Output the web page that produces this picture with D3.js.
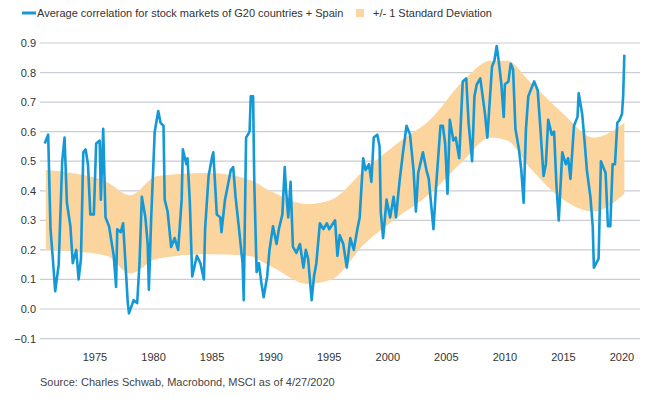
<!DOCTYPE html>
<html>
<head>
<meta charset="utf-8">
<script src="https://cdn.jsdelivr.net/npm/d3@7"></script>
<style>
  body { margin: 0; background: #fff; }
  text { font-family: "Liberation Sans", Arial, sans-serif; }
</style>
</head>
<body>
<svg id="chart" width="650" height="400"></svg>
<script>
// correlation series: [year, value]
const corrYears = [1970.7,1971.0,1971.2,1971.4,1971.6,1971.9,1972.2,1972.4,1972.6,1972.9,1973.1,1973.4,1973.6,1973.8,1974.0,1974.2,1974.4,1974.6,1974.9,1975.1,1975.4,1975.5,1975.7,1975.9,1976.2,1976.6,1976.8,1976.9,1977.2,1977.4,1977.6,1977.8,1977.9,1978.3,1978.6,1978.8,1979.0,1979.3,1979.5,1979.6,1979.8,1980.1,1980.4,1980.6,1980.85,1980.95,1981.2,1981.5,1981.8,1982.1,1982.4,1982.5,1982.8,1982.9,1983.1,1983.3,1983.7,1984.0,1984.3,1984.4,1984.7,1985.0,1985.1,1985.4,1985.7,1985.8,1986.1,1986.4,1986.6,1986.8,1987.0,1987.3,1987.6,1987.7,1987.9,1988.2,1988.3,1988.5,1988.6,1988.8,1989.0,1989.2,1989.4,1989.7,1989.9,1990.2,1990.5,1990.7,1991.0,1991.2,1991.3,1991.5,1991.7,1991.9,1992.2,1992.5,1992.8,1993.0,1993.2,1993.5,1993.7,1993.9,1994.2,1994.5,1994.8,1995.0,1995.5,1995.7,1995.9,1996.2,1996.5,1996.8,1997.1,1997.4,1997.6,1997.9,1998.1,1998.4,1998.6,1998.8,1999.1,1999.3,1999.4,1999.6,1999.9,2000.2,2000.5,2000.7,2001.0,2001.3,2001.6,2001.9,2002.2,2002.4,2002.6,2003.0,2003.3,2003.5,2003.9,2004.1,2004.5,2004.7,2004.9,2005.1,2005.3,2005.6,2005.8,2006.1,2006.4,2006.7,2006.9,2007.2,2007.4,2007.6,2007.9,2008.1,2008.3,2008.5,2008.9,2009.1,2009.3,2009.5,2009.7,2009.9,2010.0,2010.3,2010.5,2010.7,2010.9,2011.2,2011.4,2011.6,2011.8,2012.0,2012.3,2012.5,2012.8,2013.0,2013.3,2013.5,2013.7,2014.0,2014.2,2014.4,2014.6,2014.9,2015.2,2015.4,2015.6,2015.9,2016.2,2016.3,2016.6,2016.8,2017.0,2017.3,2017.5,2017.6,2017.8,2018.0,2018.2,2018.4,2018.6,2018.8,2019.0,2019.2,2019.4,2019.6,2019.8,2020.0,2020.1,2020.2];
const corrValues = [0.56,0.59,0.27,0.17,0.06,0.15,0.50,0.58,0.36,0.28,0.155,0.20,0.10,0.17,0.53,0.54,0.49,0.32,0.32,0.56,0.57,0.37,0.61,0.31,0.28,0.18,0.075,0.27,0.26,0.29,0.155,0.02,-0.015,0.03,0.02,0.155,0.38,0.31,0.22,0.065,0.31,0.60,0.67,0.63,0.62,0.37,0.33,0.21,0.24,0.20,0.37,0.54,0.49,0.51,0.36,0.11,0.18,0.155,0.10,0.27,0.45,0.515,0.53,0.32,0.31,0.26,0.37,0.43,0.47,0.48,0.38,0.27,0.155,0.03,0.58,0.60,0.72,0.72,0.43,0.125,0.155,0.09,0.04,0.11,0.20,0.28,0.22,0.27,0.32,0.48,0.41,0.31,0.43,0.21,0.19,0.22,0.14,0.20,0.17,0.03,0.11,0.155,0.29,0.27,0.29,0.27,0.30,0.18,0.25,0.22,0.14,0.24,0.20,0.27,0.31,0.51,0.47,0.49,0.43,0.58,0.59,0.55,0.33,0.24,0.37,0.31,0.38,0.31,0.43,0.53,0.62,0.59,0.47,0.33,0.46,0.53,0.47,0.44,0.27,0.40,0.62,0.62,0.56,0.39,0.64,0.57,0.58,0.51,0.77,0.78,0.63,0.50,0.72,0.76,0.78,0.72,0.66,0.58,0.82,0.84,0.89,0.83,0.76,0.65,0.76,0.77,0.83,0.81,0.61,0.54,0.47,0.36,0.61,0.72,0.75,0.77,0.74,0.63,0.45,0.49,0.64,0.59,0.60,0.42,0.30,0.53,0.49,0.51,0.44,0.62,0.65,0.73,0.66,0.57,0.47,0.38,0.28,0.14,0.155,0.17,0.50,0.48,0.46,0.28,0.28,0.49,0.49,0.63,0.64,0.66,0.72,0.86];

// +/- 1 standard deviation band
const bandYears = [1970.8,1973,1976,1978,1980.3,1984.6,1988,1990.2,1993.1,1995.2,1998,2000.8,2003.6,2006.4,2008.8,2010.2,2012.1,2015,2017.6,2020.2];
const bandUpper = [0.47,0.46,0.43,0.385,0.45,0.46,0.44,0.395,0.355,0.37,0.47,0.56,0.64,0.77,0.84,0.84,0.77,0.66,0.58,0.63];
const bandLower = [0.20,0.195,0.18,0.12,0.17,0.185,0.18,0.14,0.085,0.10,0.22,0.31,0.39,0.50,0.58,0.57,0.48,0.37,0.33,0.39];

const xTicks = [1975,1980,1985,1990,1995,2000,2005,2010,2015,2020];
const yTicks = [-0.1,0,0.1,0.2,0.3,0.4,0.5,0.6,0.7,0.8,0.9];

const svg = d3.select("#chart");
const x = d3.scaleLinear().domain([1975, 2020]).range([95, 622]);
const y = d3.scaleLinear().domain([0, 0.9]).range([309, 43]);
const gridL = 40, gridR = 640;

// gridlines + y labels
const yAxis = svg.append("g");
yAxis.selectAll("line").data(yTicks).join("line")
  .attr("x1", gridL).attr("x2", gridR)
  .attr("y1", d => y(d)).attr("y2", d => y(d))
  .attr("stroke", "#c9ced6").attr("stroke-width", 1.2);
yAxis.selectAll("text").data(yTicks).join("text")
  .attr("x", 36).attr("y", d => y(d) + 4)
  .attr("text-anchor", "end").attr("font-size", 11).attr("fill", "#333")
  .text(d => d3.format(".1f")(d));

// x labels
svg.append("g").selectAll("text").data(xTicks).join("text")
  .attr("x", d => x(d)).attr("y", 361)
  .attr("text-anchor", "middle").attr("font-size", 11).attr("fill", "#333")
  .text(d => d);

// band
const bandData = bandYears.map((yr, i) => ({ yr, lo: bandLower[i], hi: bandUpper[i] }));
svg.append("path").datum(bandData)
  .attr("fill", "#fbd49e")
  .attr("d", d3.area().curve(d3.curveMonotoneX)
    .x(d => x(d.yr)).y0(d => y(d.lo)).y1(d => y(d.hi)));

// line
const lineData = corrYears.map((yr, i) => [yr, corrValues[i]]);
svg.append("path").datum(lineData)
  .attr("fill", "none").attr("stroke", "#1598d6").attr("stroke-width", 2.6)
  .attr("stroke-linejoin", "round")
  .attr("d", d3.line().x(d => x(d[0])).y(d => y(d[1])));

// legend
const lg = svg.append("g").attr("font-size", 11).attr("fill", "#333");
lg.append("line").attr("x1", 22).attr("x2", 36).attr("y1", 13).attr("y2", 13)
  .attr("stroke", "#1598d6").attr("stroke-width", 3);
lg.append("text").attr("x", 37).attr("y", 17).text("Average correlation for stock markets of G20 countries + Spain");
lg.append("rect").attr("x", 356).attr("y", 9).attr("width", 8).attr("height", 8).attr("fill", "#fbd49e");
lg.append("text").attr("x", 373).attr("y", 17).text("+/- 1 Standard Deviation");

// source
svg.append("text").attr("x", 40).attr("y", 386).attr("font-size", 11).attr("fill", "#444")
  .text("Source: Charles Schwab, Macrobond, MSCI as of 4/27/2020");
</script>
</body>
</html>
